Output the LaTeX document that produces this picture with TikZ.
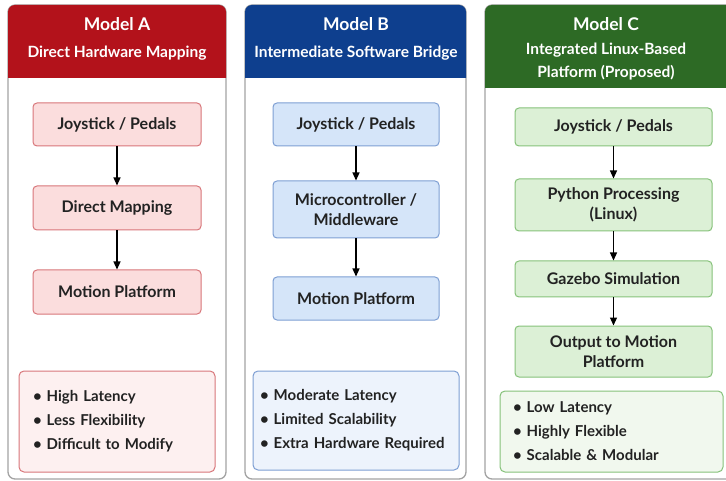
\documentclass[tikz,border=0pt]{standalone}
\usepackage{fontspec}
\setmainfont{Lato}
\usetikzlibrary{shapes,arrows,arrows.meta}

\definecolor{headA}{HTML}{B3121B}
\definecolor{headB}{HTML}{0E3F8E}
\definecolor{headC}{HTML}{2D6A25}
\definecolor{lineA}{HTML}{D8767A}
\definecolor{lineB}{HTML}{7E9FD3}
\definecolor{lineC}{HTML}{86C27A}
\definecolor{fillA}{HTML}{FBDDDD}
\definecolor{fillB}{HTML}{D5E5F9}
\definecolor{fillC}{HTML}{DCF0D6}
\definecolor{softA}{HTML}{FDF0F0}
\definecolor{softB}{HTML}{EDF3FC}
\definecolor{softC}{HTML}{F1F8EE}
\definecolor{panelgray}{HTML}{A3A3A3}
\definecolor{inkgray}{HTML}{222222}

\tikzset{
  panel/.style={draw=panelgray, line width=1.3pt, rounded corners=7pt, fill=white},
  title/.style={text=white, font=\fontsize{17.5}{20}\selectfont\bfseries},
  subtitle/.style={text=white, font=\fontsize{15.5}{23}\selectfont\bfseries, align=center},
  block/.style={draw, rounded corners=4pt, line width=1pt, align=center, text=inkgray,
    font=\fontsize{16}{20}\selectfont\bfseries, inner sep=0pt},
  blockA/.style={block, draw=lineA, fill=fillA, minimum width=168pt},
  blockB/.style={block, draw=lineB, fill=fillB, minimum width=166pt},
  blockC/.style={block, draw=lineC, fill=fillC, minimum width=197pt},
  notes/.style={draw, rounded corners=5pt, line width=1pt, align=left, text=inkgray,
    font=\fontsize{15}{24}\selectfont\bfseries, inner ysep=0pt},
  flow/.style={-{Triangle[length=8pt,width=7pt]}, line width=1.2pt, black}
}

\begin{document}
\begin{tikzpicture}[x=1pt, y=-1pt]
\clip (0,0) rectangle (726,481);

\draw[panel] (8,5) rectangle (226,479);
\begin{scope}
\clip (0,0) rectangle (726,78);
\fill[headA, rounded corners=7pt] (8,5) rectangle (226,120);
\end{scope}
\node[title] (titA) at (117,24) {Model A};
\node[subtitle] (subA) at (117,53) {Direct Hardware Mapping};

\draw[panel] (245,5) rectangle (466,479);
\begin{scope}
\clip (0,0) rectangle (726,78);
\fill[headB, rounded corners=7pt] (245,5) rectangle (466,120);
\end{scope}
\node[title] (titB) at (356,24) {Model B};
\node[subtitle] (subB) at (356,53) {Intermediate Software Bridge};

\draw[panel] (485,5) rectangle (740,479);
\begin{scope}
\clip (0,0) rectangle (726,88);
\fill[headC, rounded corners=7pt] (485,5) rectangle (740,130);
\end{scope}
\node[title] (titC) at (606,24) {Model C};
\node[subtitle] (subC) at (606,62) {Integrated Linux-Based\\Platform (Proposed)};

\node[blockA, minimum height=43pt] (joyA) at (117,124.5) {Joystick / Pedals};
\node[blockA, minimum height=44pt] (mapA) at (117,208) {Direct Mapping};
\node[blockA, minimum height=44pt] (motA) at (117,292) {Motion Platform};
\draw[flow] (joyA) -- (mapA);
\draw[flow] (mapA) -- (motA);

\node[blockB, minimum height=43pt] (joyB) at (356,124.5) {Joystick / Pedals};
\node[blockB, minimum height=57pt] (midB) at (356,209.5) {Microcontroller /\\Middleware};
\node[blockB, minimum height=43pt] (motB) at (356,298.5) {Motion Platform};
\draw[flow] (joyB) -- (midB);
\draw[flow] (midB) -- (motB);

\node[blockC, minimum height=38pt] (joyC) at (613.5,127) {Joystick / Pedals};
\node[blockC, minimum height=52pt] (pyC) at (613.5,205) {Python Processing\\(Linux)};
\node[blockC, minimum height=36pt] (gzC) at (613.5,279) {Gazebo Simulation};
\node[blockC, minimum height=51pt] (outC) at (613.5,351.5) {Output to Motion\\Platform};
\draw[flow] (joyC) -- (pyC);
\draw[flow] (pyC) -- (gzC);
\draw[flow] (gzC) -- (outC);

\node[notes, draw=lineA, fill=softA, text width=168pt, inner xsep=14pt, minimum height=101pt] (proA) at (117,421.5)
  {• High Latency\\• Less Flexibility\\• Difficult to Modify};
\node[notes, draw=lineB, fill=softB, text width=192pt, inner xsep=7pt, minimum height=99pt] (proB) at (356,420.5)
  {• Moderate Latency\\• Limited Scalability\\• Extra Hardware Required};
\node[notes, draw=lineC, fill=softC, text width=197pt, inner xsep=13pt, minimum height=81pt] (proC) at (611.5,431.5)
  {• Low Latency\\• Highly Flexible\\• Scalable \& Modular};
\end{tikzpicture}
\end{document}
